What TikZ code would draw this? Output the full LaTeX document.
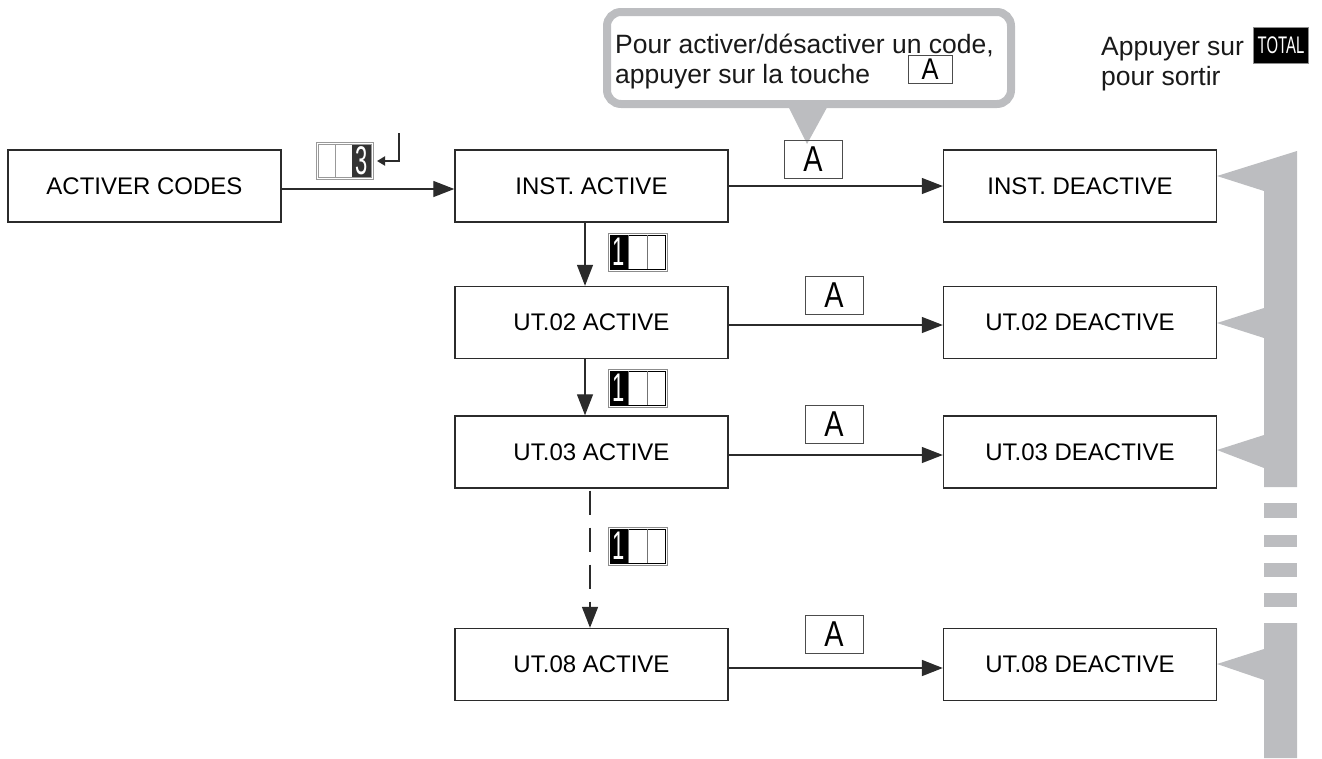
\documentclass[tikz,border=0pt]{standalone}
\usepackage{fontspec}
\usepackage{graphicx}
\setmainfont{Liberation Sans}
\usetikzlibrary{arrows.meta,calc}
\definecolor{barg}{HTML}{BCBDC0}
\definecolor{edge}{HTML}{2B2B2B}
\tikzset{
 box/.style={draw=edge,line width=1.4pt,minimum width=273pt,minimum height=72pt,inner sep=0pt,font=\fontsize{24}{28}\selectfont},
 arr/.style={line width=1.3pt,draw=edge,-{Triangle[length=21pt,width=16pt]}},
 akey/.style={draw=black!70,line width=.8pt,minimum width=58pt,minimum height=38pt,inner sep=0pt,font=\fontsize{36}{36}\selectfont},
 akeysmall/.style={draw=black!70,line width=.8pt,minimum width=44pt,minimum height=28pt,inner sep=0pt,font=\fontsize{30}{30}\selectfont},
 lbl/.style={font=\fontsize{26.5}{30}\selectfont,anchor=base west,inner sep=0pt,text=black!90},
 pics/onekey/.style={code={
   \draw[black!45,line width=.6pt] (0,0) rectangle (59,38);
   \fill[black] (2,2) rectangle (20,36);
   \draw[black,line width=.9pt] (2,2) rectangle (57,36);
   \draw[black!55,line width=.6pt] (20,2) -- (20,36) (39,2) -- (39,36);
   \node[text=white,inner sep=0pt,font=\fontsize{40}{40}\selectfont] (-d) at (11,19) {\scalebox{.55}[1]{1}};
 }},
 pics/threekey/.style={code={
   \draw[black!40,line width=.8pt] (0,0) rectangle (57,37);
   \fill[black!80] (36,2) rectangle (55,35);
   \draw[black!40,line width=.6pt] (2,2) rectangle (55,35) (19,2) -- (19,35);
   \node[text=white,inner sep=0pt,font=\fontsize{40}{40}\selectfont] (-d) at (45.5,18.5) {\scalebox{.55}[1]{3}};
 }}
}
\begin{document}
\begin{tikzpicture}[x=1pt,y=-1pt]
\useasboundingbox (0,0) rectangle (1322,758);

% boxes
\node[box] (codes) at (144.5,186) {ACTIVER CODES};
\node[box] (inst)  at (591.5,186) {INST. ACTIVE};
\node[box] (instd) at (1080,186) {INST. DEACTIVE};
\node[box] (u2)  at (591.5,322.5) {UT.02 ACTIVE};
\node[box] (u2d) at (1080,322.5) {UT.02 DEACTIVE};
\node[box] (u3)  at (591.5,452) {UT.03 ACTIVE};
\node[box] (u3d) at (1080,452) {UT.03 DEACTIVE};
\node[box] (u8)  at (591.5,664.5) {UT.08 ACTIVE};
\node[box] (u8d) at (1080,664.5) {UT.08 DEACTIVE};

% horizontal arrows
\draw[arr] ([yshift=-3pt]codes.east) -- ([yshift=-3pt]inst.west);
\draw[arr] (inst.east) -- (instd.west);
\draw[arr] ([yshift=-2.5pt]u2.east) -- ([yshift=-2.5pt]u2d.west);
\draw[arr] ([yshift=-3pt]u3.east) -- ([yshift=-3pt]u3d.west);
\draw[arr,line width=1.8pt] ([yshift=-3.5pt]u8.east) -- ([yshift=-3.5pt]u8d.west);

% vertical arrows
\draw[arr] ([xshift=-6.5pt]inst.south) -- ([xshift=-6.5pt]u2.north);
\draw[arr] ([xshift=-6.5pt]u2.south) -- ([xshift=-6.5pt]u3.north);
\draw[arr,line width=1.6pt,dash pattern=on 24pt off 13pt] ([xshift=-1.5pt,yshift=-2pt]u3.south) -- ([xshift=-1.5pt]u8.north);

% key icons
\pic (k3) at (316,142) {threekey};
\coordinate (r1) at (399,133);
\coordinate (r2) at (377,161);
\draw[edge,line width=1.8pt,-{Triangle[length=8pt,width=9pt]}] (r1) |- (r2);
\pic (k1a) at (608,233) {onekey};
\pic (k1b) at (608,369) {onekey};
\pic (k1c) at (608,527) {onekey};

% callout
\node[draw=barg,line width=8pt,fill=white,rounded corners=14pt,minimum width=404pt,minimum height=92pt,inner sep=0pt] (callout) at (809,58) {};
\fill[barg] (786,102) -- (830,102) -- (807,144) -- cycle;
\node[lbl] (ct1) at (615,53) {Pour activer/désactiver un code,};
\node[lbl] (ct2) at (615,83) {appuyer sur la touche};
\node[akeysmall] (ca) at (930,69) {\scalebox{.85}[1]{A}};

% A keys
\node[akey] (a1) at (813,159) {\scalebox{.8}[1]{A}};
\node[akey] (a2) at (834,295.5) {\scalebox{.8}[1]{A}};
\node[akey] (a3) at (834,424) {\scalebox{.8}[1]{A}};
\node[akey] (a8) at (834,634) {\scalebox{.8}[1]{A}};

% exit text
\node[lbl] (ex1) at (1101,55) {Appuyer sur};
\node[lbl] (ex2) at (1101,85) {pour sortir};
\node[fill=black,draw=black!45,line width=.8pt,minimum width=55pt,minimum height=36pt,inner sep=0pt,text=white,font=\fontsize{24}{24}\selectfont] (total) at (1281,45) {\scalebox{.62}[1]{TOTAL}};

% gray return bar
\fill[barg] (1217,176) -- (1297,151) -- (1297,487) -- (1264,487) -- (1264,468) -- (1217,450) -- (1264,435)
  -- (1264,338) -- (1217,323) -- (1264,308) -- (1264,191) -- cycle;
\fill[barg] (1264,503) rectangle (1297,518);
\fill[barg] (1264,535) rectangle (1297,547);
\fill[barg] (1264,563) rectangle (1297,577);
\fill[barg] (1264,593) rectangle (1297,607);
\fill[barg] (1264,623) -- (1297,623) -- (1297,758) -- (1264,758) -- (1264,680) -- (1217,664) -- (1264,649) -- cycle;
\end{tikzpicture}
\end{document}
